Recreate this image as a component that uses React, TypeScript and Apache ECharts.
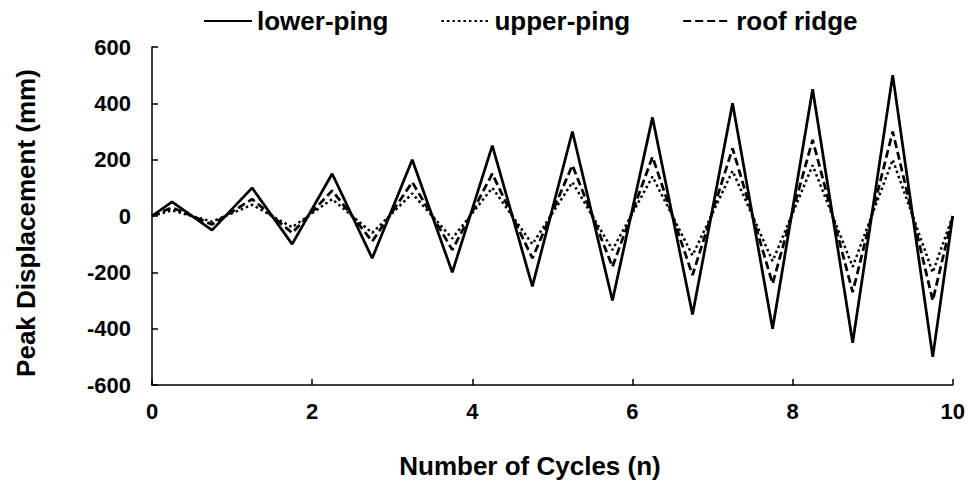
import React, { useEffect, useRef } from "react";
import * as echarts from "echarts";

const cycles = [0, 0.25, 0.75, 1.25, 1.75, 2.25, 2.75, 3.25, 3.75, 4.25, 4.75, 5.25, 5.75, 6.25, 6.75, 7.25, 7.75, 8.25, 8.75, 9.25, 9.75, 10];
const lowerPing = [0, 50, -50, 100, -100, 150, -150, 200, -200, 250, -250, 300, -300, 350, -350, 400, -400, 450, -450, 500, -500, 0];
const upperPing = [0, 20, -20, 40, -40, 60, -60, 80, -80, 100, -100, 120, -120, 140, -140, 160, -160, 180, -180, 200, -200, 0];
const roofRidge = [0, 30, -30, 60, -60, 90, -90, 120, -120, 150, -150, 180, -180, 210, -210, 240, -240, 270, -270, 300, -300, 0];
const seriesNames = ["lower-ping", "upper-ping", "roof ridge"];
const xTitle = "Number of Cycles (n)";
const yTitle = "Peak Displacement (mm)";

const FONT = "'Liberation Sans', Arial, sans-serif";

function pairs(ys: number[]) {
  return cycles.map((x, i) => [x, ys[i]]);
}

export default function App() {
  const ref = useRef<HTMLDivElement>(null);
  useEffect(() => {
    if (!ref.current) return;
    const chart = echarts.init(ref.current, null, { renderer: "svg" });
    const axisCommon = {
      axisLine: { show: true, onZero: false, lineStyle: { color: "#000", width: 1.5 } },
      axisTick: { show: true, inside: true, length: 6, lineStyle: { color: "#000", width: 1.5 } },
      splitLine: { show: false },
      axisLabel: { color: "#000", fontFamily: FONT, fontWeight: "bold", fontSize: 22 },
    };
    chart.setOption({
      animation: false,
      backgroundColor: "#fff",
      grid: { left: 152, right: 13, top: 47, bottom: 97, containLabel: false },
      legend: {
        left: 198,
        top: 3,
        itemWidth: 48,
        itemHeight: 14,
        itemGap: 52,
        data: seriesNames,
        itemStyle: { opacity: 0 },
        textStyle: { color: "#000", fontFamily: FONT, fontWeight: "bold", fontSize: 26 },
      },
      xAxis: {
        type: "value",
        min: 0,
        max: 10,
        interval: 2,
        ...axisCommon,
        axisLabel: { ...axisCommon.axisLabel, margin: 15 },
      },
      yAxis: {
        type: "value",
        min: -600,
        max: 600,
        interval: 200,
        ...axisCommon,
        axisLabel: { ...axisCommon.axisLabel, margin: 21 },
      },
      graphic: [
        {
          type: "text",
          x: 530,
          y: 466,
          style: {
            text: xTitle,
            fill: "#000",
            font: `bold 26px ${FONT}`,
            align: "center",
            verticalAlign: "middle",
          },
        },
        {
          type: "text",
          x: 26,
          y: 223,
          rotation: Math.PI / 2,
          style: {
            text: yTitle,
            fill: "#000",
            font: `bold 26px ${FONT}`,
            align: "center",
            verticalAlign: "middle",
          },
        },
      ],
      series: [
        {
          name: seriesNames[0],
          type: "line",
          data: pairs(lowerPing),
          symbol: "none",
          lineStyle: { color: "#000", width: 2.75, type: "solid" },
          itemStyle: { color: "#000" },
        },
        {
          name: seriesNames[1],
          type: "line",
          data: pairs(upperPing),
          symbol: "none",
          lineStyle: { color: "#000", width: 2.5, type: [2.5, 3] },
          itemStyle: { color: "#000" },
        },
        {
          name: seriesNames[2],
          type: "line",
          data: pairs(roofRidge),
          symbol: "none",
          lineStyle: { color: "#000", width: 2.75, type: [8, 4] },
          itemStyle: { color: "#000" },
        },
      ],
    });
    return () => chart.dispose();
  }, []);
  return <div ref={ref} style={{ width: 968, height: 482, position: "absolute", left: 0, top: 0 }} />;
}
